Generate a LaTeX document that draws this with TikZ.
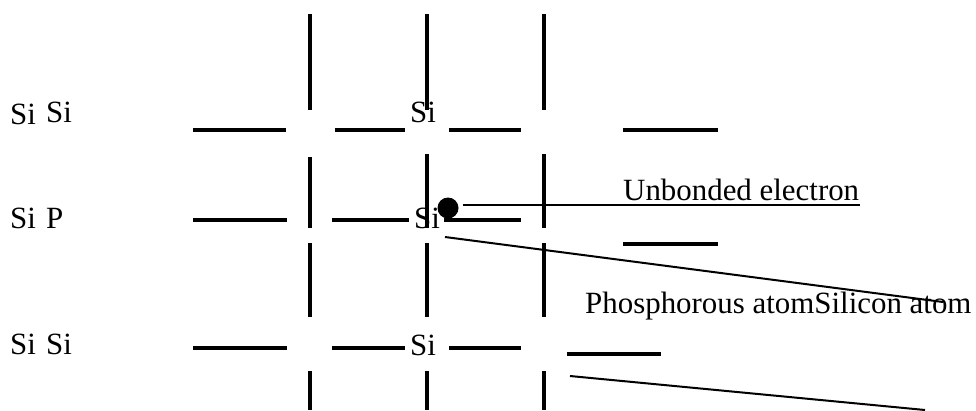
\documentclass[tikz,border=0pt]{standalone}
\usepackage{fontspec}
\setmainfont{Liberation Serif}
\tikzset{
bond/.style={black, line width=4.7pt},
leader/.style={black, line width=2pt},
atom/.style={anchor=base west, inner sep=0pt, font=\fontsize{30.9}{36}\selectfont},
}

\begin{document}
\begin{tikzpicture}[x=1pt,y=-1pt]
\useasboundingbox (0,0) rectangle (976,410);
\draw[bond] (310,14) -- (310,110);
\draw[bond] (427,14) -- (427,110);
\draw[bond] (544,14) -- (544,110);
\draw[bond] (310,157) -- (310,228);
\draw[bond] (427,154) -- (427,228);
\draw[bond] (544,154) -- (544,228);
\draw[bond] (310,243) -- (310,317);
\draw[bond] (427,243) -- (427,317);
\draw[bond] (544,243) -- (544,317);
\draw[bond] (310,371) -- (310,410);
\draw[bond] (427,371) -- (427,410);
\draw[bond] (544,371) -- (544,410);
\draw[bond] (193,130) -- (286,130);
\draw[bond] (335,130) -- (405,130);
\draw[bond] (449,130) -- (521,130);
\draw[bond] (623,130) -- (718,130);
\draw[bond] (193,220) -- (287,220);
\draw[bond] (332,220) -- (409,220);
\draw[bond] (444,220) -- (521,220);
\draw[bond] (623,244) -- (718,244);
\draw[bond] (193,348) -- (287,348);
\draw[bond] (332,348) -- (405,348);
\draw[bond] (449,348) -- (521,348);
\draw[bond] (567,354) -- (661,354);
\node[atom] (SiA) at (10,124) {Si};
\node[atom] (SiB) at (46,122.6) {Si};
\node[atom] (SiC) at (410,122.6) {Si};
\node[atom] (SiD) at (10,228) {Si};
\node[atom] (PhosAtom) at (46,228) {P};
\node[atom] (SiE) at (414,228) {Si};
\node[atom] (SiF) at (10,354.5) {Si};
\node[atom] (SiG) at (46,354.5) {Si};
\node[atom] (SiH) at (410,355) {Si};
\node[circle, fill=black, inner sep=0pt, minimum size=21pt] (Electron) at (448,208) {};
\node[atom] (ElectronText) at (623,200) {Unbonded electron};
\node[atom] (AtomText) at (585,313) {Phosphorous atomSilicon atom};
\coordinate (ElectronA) at (463,205);
\coordinate (ElectronB) at (860,205);
\coordinate (PhosA) at (445,237);
\coordinate (PhosB) at (943,302);
\coordinate (SiliconA) at (570,376);
\coordinate (SiliconB) at (925,410);
\draw[leader] (ElectronA) -- (ElectronB);
\draw[leader] (PhosA) -- (PhosB);
\draw[leader] (SiliconA) -- (SiliconB);
\end{tikzpicture}
\end{document}
